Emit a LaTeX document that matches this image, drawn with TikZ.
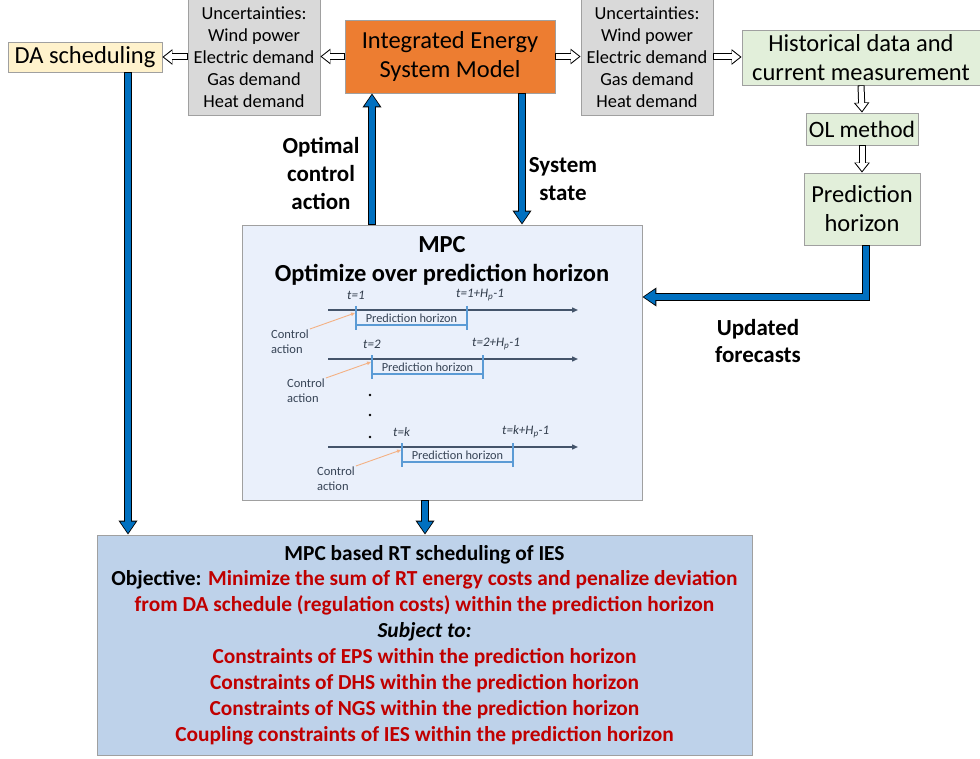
\documentclass[tikz,border=0pt]{standalone}
\usepackage{fontspec}
\setmainfont{Carlito}
\usetikzlibrary{arrows.meta}
\definecolor{boxgray}{RGB}{160,160,160}
\definecolor{dayellow}{RGB}{255,242,204}
\definecolor{uncgray}{RGB}{217,217,217}
\definecolor{iesorange}{RGB}{237,125,49}
\definecolor{histgreen}{RGB}{226,239,218}
\definecolor{mpcblue}{RGB}{234,240,251}
\definecolor{rtblue}{RGB}{190,210,234}
\definecolor{arrblue}{RGB}{0,112,192}
\definecolor{axisgray}{RGB}{68,84,106}
\definecolor{tickblue}{RGB}{91,155,213}
\definecolor{caorange}{RGB}{244,177,131}
\definecolor{redtext}{RGB}{192,0,0}

\begin{document}
\begin{tikzpicture}[x=1pt,y=-1pt,
  box/.style={draw=boxgray, line width=0.8pt, align=center, inner sep=0pt},
  unc/.style={box, fill=uncgray, minimum width=132pt, minimum height=116pt,
    font=\fontsize{18.4}{22}\selectfont},
  hollow/.style={black, line width=7pt, -{Triangle[length=10pt,width=15pt]},
    postaction={draw=white, line width=5pt, -{Triangle[length=7.8pt,width=11.5pt]},
      shorten >=1.6pt, shorten <=0.8pt}},
  bluearr/.style={black, line width=8.5pt, -{Triangle[length=14pt,width=18pt]},
    postaction={draw=arrblue, line width=6.5pt, -{Triangle[length=11.6pt,width=14.6pt]},
      shorten >=1.4pt, shorten <=0.8pt}},
  lbl/.style={align=center, font=\bfseries\fontsize{23}{28}\selectfont},
  axis/.style={axisgray, line width=1.4pt, -{Triangle[length=6pt,width=5pt]}},
  tick/.style={tickblue, line width=1.4pt},
  tlab/.style={font=\itshape\fontsize{13}{14}\selectfont, text=axisgray!70!black, inner sep=0pt},
  ctrl/.style={align=left, font=\fontsize{12.5}{15}\selectfont, text=axisgray!80!black, inner sep=1pt},
  caarrow/.style={caorange, line width=0.9pt, -{Triangle[length=4pt,width=3.5pt]}}]
\useasboundingbox (0,0) rectangle (980,759);

% top row
\node[box, fill=dayellow, minimum width=154pt, minimum height=30pt,
  font=\fontsize{24.5}{26}\selectfont] (da) at (85,57) {DA scheduling};
\node[unc] (uncL) at (254,57) {Uncertainties:\\Wind power\\Electric demand\\Gas demand\\Heat demand};
\node[box, fill=iesorange, minimum width=210pt, minimum height=73pt,
  font=\fontsize{24.5}{29}\selectfont] (ies) at (450,56.5) {Integrated Energy\\System Model};
\node[unc] (uncR) at (647,57) {Uncertainties:\\Wind power\\Electric demand\\Gas demand\\Heat demand};
\node[box, fill=histgreen, minimum width=238pt, minimum height=55pt,
  font=\fontsize{24.5}{29}\selectfont] (hist) at (861,57.5) {Historical data and\\current measurement};
\node[box, fill=histgreen, minimum width=112pt, minimum height=32pt,
  font=\fontsize{23.5}{26}\selectfont] (ol) at (862,129) {OL method};
\node[box, fill=histgreen, minimum width=116pt, minimum height=72pt,
  font=\fontsize{24.5}{29}\selectfont] (pred) at (862,209) {Prediction\\horizon};

% MPC block
\node[box, fill=mpcblue, minimum width=400pt, minimum height=275pt] (mpc) at (442,362.5) {};
\node[align=center, font=\bfseries\fontsize{24.5}{29}\selectfont] (mpctitle) at (442,260.5)
  {MPC\\Optimize over prediction horizon};
\foreach \y/\tx/\k in {310/356/1, 359/372/2, 447/402/k} {
  \coordinate (tk\k) at (\tx,\y);
  \draw[axis] (328,\y) -- (578,\y);
  \draw[tick] (\tx,\y-4) -- (\tx,\y+20);
  \draw[tick] (\tx+111,\y-4) -- (\tx+111,\y+20);
  \draw[tick] (\tx,\y+15) -- (\tx+111,\y+15);
  \node[font=\fontsize{12.3}{14}\selectfont, text=axisgray!80!black, inner sep=0pt]
    (ph\k) at (\tx+55.5,\y+8) {Prediction horizon};
  \node[tlab, anchor=west] (ts\k) at (\tx-9,\y-15) {t=\k};
  \node[tlab, anchor=west] (te\k) at (\tx+100,\y-15) {t=\k+H\textsubscript{p}-1};
  \node[ctrl, anchor=north west] (ca\k) at (\tx-86,\y+19) {Control\\action};
  \draw[caarrow] (ca\k.north east) -- ([shift={(-1,3)}]tk\k);
}
\foreach \y in {395,415,437}
  \fill[black] (370,\y) circle (1.3);

% RT scheduling block
\node[box, fill=rtblue, minimum width=655pt, minimum height=220pt,
  font=\bfseries\fontsize{21.4}{25.9}\selectfont] (rt) at (424.5,645)
  {MPC based RT scheduling of IES\\
   Objective: \textcolor{redtext}{Minimize the sum of RT energy costs and penalize deviation}\\
   \textcolor{redtext}{from DA schedule (regulation costs) within the prediction horizon}\\
   \textit{Subject to:}\\
   \textcolor{redtext}{Constraints of EPS within the prediction horizon}\\
   \textcolor{redtext}{Constraints of DHS within the prediction horizon}\\
   \textcolor{redtext}{Constraints of NGS within the prediction horizon}\\
   \textcolor{redtext}{Coupling constraints of IES within the prediction horizon}};

% hollow arrows
\draw[hollow] (ies.west) -- (ies.west -| uncL.east);
\draw[hollow] (uncL.west) -- (uncL.west -| da.east);
\draw[hollow] (ies.east) -- (ies.east -| uncR.west);
\draw[hollow] (uncR.east) -- (uncR.east -| hist.west);
\draw[hollow] (hist.south) -- (ol.north);
\draw[hollow] (ol.south) -- (pred.north);

% blue arrows
\coordinate (daout) at ([xshift=43]da.south);
\coordinate (mpcup) at ([xshift=-70]mpc.north);
\coordinate (iesdown) at ([xshift=72]ies.south);
\coordinate (predout) at ([xshift=4]pred.south);
\coordinate (mpcin) at ([yshift=65.5]mpc.east);
\coordinate (mpcout) at ([xshift=-17]mpc.south);
\draw[bluearr] (daout) -- (daout |- rt.north);
\draw[bluearr] (mpcup) -- (mpcup |- ies.south);
\draw[bluearr] (iesdown) -- (iesdown |- mpc.north);
\draw[bluearr] (predout) |- (mpcin);
\draw[bluearr] (mpcout) -- (mpcout |- rt.north);

% arrow labels
\node[lbl] (optlbl) at (321,173) {Optimal\\control\\action};
\node[lbl] (statelbl) at (563,179) {System\\state};
\node[lbl, font=\bfseries\fontsize{23}{27}\selectfont] (fclbl) at (758,341) {Updated\\forecasts};
\end{tikzpicture}
\end{document}
